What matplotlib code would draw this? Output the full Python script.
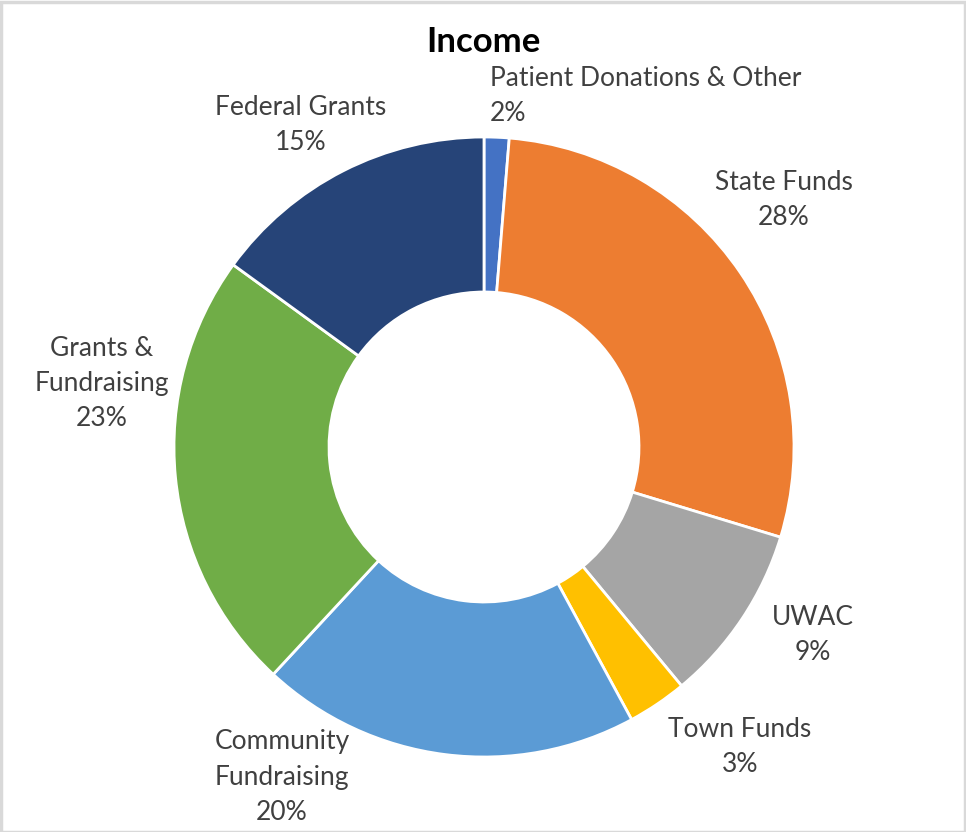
import matplotlib
matplotlib.use("Agg")
import matplotlib.pyplot as plt
from matplotlib.patches import Rectangle

categories = ["Patient Donations & Other", "State Funds", "UWAC", "Town Funds",
              "Community Fundraising", "Grants & Fundraising", "Federal Grants"]
values = [1.3, 28.4, 9.3, 3.1, 19.8, 23.1, 15.0]
pct_labels = ["2%", "28%", "9%", "3%", "20%", "23%", "15%"]
label_texts = ["Patient Donations & Other", "State Funds", "UWAC", "Town Funds",
               "Community\nFundraising", "Grants &\nFundraising", "Federal Grants"]
colors = ["#4472C4", "#ED7D31", "#A5A5A5", "#FFC000", "#5B9BD5", "#70AD47", "#264478"]

W, H = 966, 832
fig = plt.figure(figsize=(W / 100, H / 100), dpi=100)
ax = fig.add_axes([0, 0, 1, 1])

cx, cy, R = 484, H - 447, 310
ax.pie(values, colors=colors, startangle=90, counterclock=False,
       center=(cx, cy), radius=R, frame=True,
       wedgeprops=dict(width=R * 0.5, edgecolor="white", linewidth=2))
ax.set_xlim(0, W)
ax.set_ylim(0, H)
ax.set_aspect("auto")
ax.axis("off")

font = ["Lato", "DejaVu Sans"]
fs = 19
tc = "#404040"
# label positions (pixel centres)
pos = [(490, 96, "left"), (784, 200, "center"), (813, 635, "center"),
       (740, 747, "center"), (282, 777, "center"), (102, 384, "center"),
       (301, 125, "center")]
for (x, y, ha), t, p in zip(pos, label_texts, pct_labels):
    ax.text(x, H - y, t + "\n" + p, ha=ha, va="center", multialignment=ha,
            fontsize=fs, color=tc, family=font, linespacing=1.5)

ax.text(483, H - 42, "Income", ha="center", va="center", fontsize=25,
        fontweight="bold", color="black", family=font)

fig.patches.append(Rectangle((0.5, 0.5), W - 2, H - 2, transform=None,
                             fill=False, edgecolor="#D9D9D9", linewidth=2.5))

fig.savefig("out.png", dpi=100)
